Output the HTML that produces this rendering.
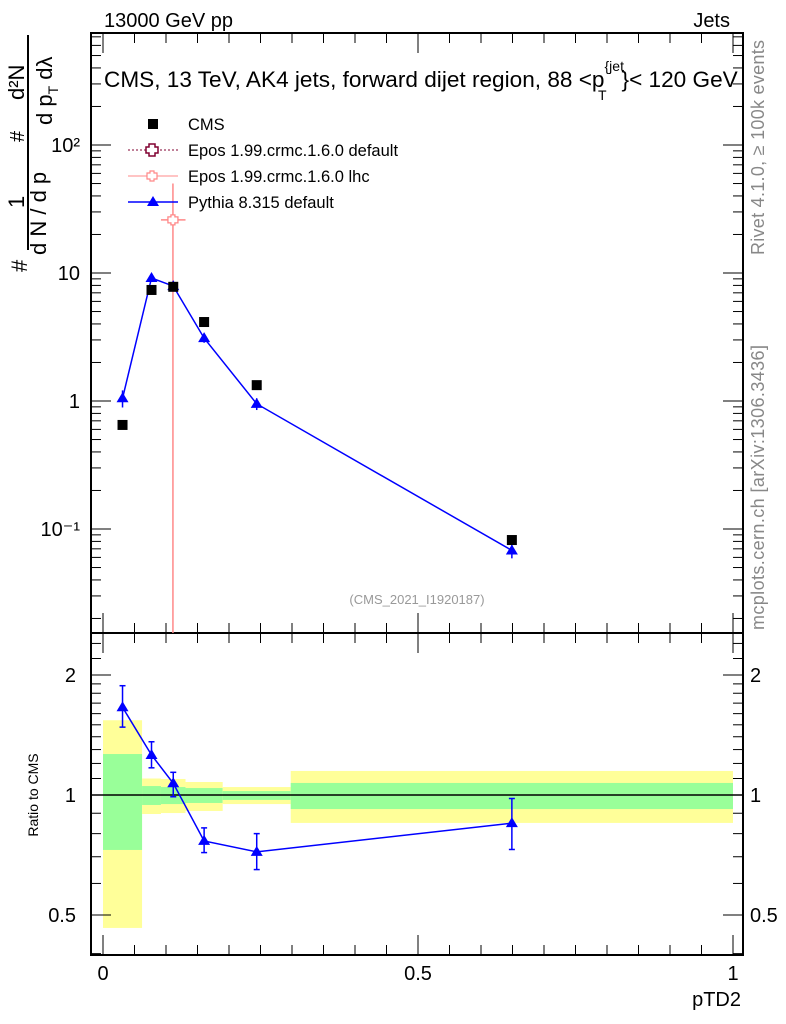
<!DOCTYPE html>
<html><head><meta charset="utf-8"><style>
body{margin:0;background:#fff}
svg{display:block;font-family:"Liberation Sans",sans-serif}
</style></head><body>
<svg id="c" width="786" height="1024" xmlns="http://www.w3.org/2000/svg">
<g id="bands"></g>
<g id="axes"></g>
<g id="marks"></g>
<text x="104" y="27" font-size="20">13000 GeV pp</text>
<text x="730" y="27" font-size="20" text-anchor="end">Jets</text>
<text x="104" y="87" font-size="22.6">CMS, 13 TeV, AK4 jets, forward dijet region, 88 &lt;p<tspan font-size="14" dy="-16">{jet</tspan><tspan font-size="14" dx="-26" dy="29">T</tspan><tspan dx="15" dy="-13">}&lt; 120 GeV</tspan></text>
<text x="417" y="604" font-size="13" fill="#999" text-anchor="middle">(CMS_2021_I1920187)</text>
<text transform="translate(764,255) rotate(-90)" font-size="18" fill="#888" textLength="215">Rivet 4.1.0, ≥ 100k events</text>
<text transform="translate(764,630) rotate(-90)" font-size="18" fill="#888" textLength="285">mcplots.cern.ch [arXiv:1306.3436]</text>
<g font-size="22">
<text transform="translate(27,272) rotate(-90)">#</text>
<line x1="28" y1="250" x2="28" y2="35" stroke="#000" stroke-width="2"/>
<text transform="translate(24,208) rotate(-90)">1</text>
<text transform="translate(46,255) rotate(-90)">d N / d p</text>
<text transform="translate(24,142) rotate(-90)" font-size="20">#</text>
<text transform="translate(24,100) rotate(-90)">d²N</text>
<line x1="28" y1="125" x2="28" y2="35" stroke="#000" stroke-width="1.5"/>
<text transform="translate(52,125) rotate(-90)">d p<tspan font-size="14" dy="6">T</tspan><tspan dy="-6"> dλ</tspan></text>
</g>
<text transform="translate(38,795) rotate(-90)" font-size="14" text-anchor="middle">Ratio to CMS</text>
<text x="741" y="1006" font-size="20" text-anchor="end">pTD2</text>
<g font-size="16.5">
<g><rect x="148" y="119" width="10" height="10" fill="#000"/><text x="188" y="130">CMS</text></g>
<g><line x1="128" y1="150" x2="178" y2="150" stroke="#800030" stroke-dasharray="2,2"/><path d="M149,144h6v3h3v6h-3v3h-6v-3h-3v-6h3z" fill="#fff" stroke="#800030" stroke-width="1.5"/><text x="188" y="156">Epos 1.99.crmc.1.6.0 default</text></g>
<g><line x1="128" y1="176" x2="178" y2="176" stroke="#f88"/><path d="M150,171h4v2h3v6h-3v2h-4v-2h-3v-6h3z" fill="#fff" stroke="#f88" stroke-width="1.2"/><text x="188" y="182">Epos 1.99.crmc.1.6.0 lhc</text></g>
<g><line x1="128" y1="202" x2="178" y2="202" stroke="#00f" stroke-width="1.5"/><path d="M153,196l6,10h-12z" fill="#00f"/><text x="188" y="208">Pythia 8.315 default</text></g>
</g>
</svg>
<script>
const binEdges=[0,0.062,0.092,0.131,0.19,0.298,1.0];
const cmsVals=[0.65,7.37,7.8,4.14,1.33,0.082];
const pyVals=[1.05,9.14,7.9,3.1,0.95,0.068];
const pyErr=[0.16,0.6,0.5,0.25,0.1,0.009];
const eposX=[0.111];const eposVal=[26];const eposErrHi=[24];
const ratioVals=[1.66,1.26,1.07,0.767,0.72,0.85];
const ratioErrHi=[0.22,0.1,0.07,0.06,0.08,0.13];
const ratioErrLo=[0.18,0.09,0.08,0.05,0.07,0.12];
const yelHi=[1.54,1.10,1.097,1.078,1.047,1.149];
const yelLo=[0.464,0.896,0.901,0.912,0.949,0.851];
const grnHi=[1.267,1.053,1.047,1.041,1.023,1.072];
const grnLo=[0.728,0.944,0.949,0.955,0.972,0.922];
const xTicks=[0,0.5,1];const xTickLabels=["0","0.5","1"];
const L=91,R=743,T=33,M=633,B=955;
const X=v=>103+630*v;
const Y=v=>401-128*Math.log10(v);
const YR=v=>795-120*Math.log2(v);
const NS="http://www.w3.org/2000/svg";
function mk(p,t,a){const e=document.createElementNS(NS,t);for(const k in a)e.setAttribute(k,a[k]);document.getElementById(p).appendChild(e);return e;}
const cx=binEdges.slice(0,-1).map((e,i)=>(e+binEdges[i+1])/2);
for(let i=0;i<6;i++){
 const a=X(binEdges[i]),b=X(binEdges[i+1]);
 let r=mk('bands','rect',{x:a,y:YR(yelHi[i]),width:b-a,height:YR(yelLo[i])-YR(yelHi[i]),fill:'#ffff99'});
 
 
 r=mk('bands','rect',{x:a,y:YR(grnHi[i]),width:b-a,height:YR(grnLo[i])-YR(grnHi[i]),fill:'#99ff99'});
 
 
}
mk('axes','rect',{x:L,y:T,width:R-L,height:M-T,fill:'none',stroke:'#000','stroke-width':2});
mk('axes','rect',{x:L,y:M,width:R-L,height:B-M,fill:'none',stroke:'#000','stroke-width':2});
mk('axes','line',{x1:L,y1:YR(1),x2:R,y2:YR(1),stroke:'#000','stroke-width':1.5});
for(let d=-2;d<=2;d++)for(let k=1;k<10;k++){const v=k*Math.pow(10,d);const y=Y(v);if(y<T||y>M)continue;const len=k==1?20:10;
 mk('axes','line',{x1:L,y1:y,x2:L+len,y2:y,stroke:'#000'});mk('axes','line',{x1:R,y1:y,x2:R-len,y2:y,stroke:'#000'});}
const ml=[[2,'10²'],[1,'10'],[0,'1'],[-1,'10⁻¹']];
ml.forEach(([d,s])=>{const t=mk('axes','text',{x:80,y:Y(Math.pow(10,d))+7,'font-size':20,'text-anchor':'end'});t.textContent=s;
 
 });
[0.4,0.5,0.6,0.7,0.8,0.9,1,1.1,1.2,1.3,1.4,1.5,1.6,1.7,1.8,1.9,2,2.2,2.4].forEach(v=>{const y=YR(v);if(y<M||y>B)return;const len=(v==0.5||v==1||v==2)?20:10;
 mk('axes','line',{x1:L,y1:y,x2:L+len,y2:y,stroke:'#000'});mk('axes','line',{x1:R,y1:y,x2:R-len,y2:y,stroke:'#000'});});
[[2,'2'],[1,'1'],[0.5,'0.5']].forEach(([v,s])=>{let t=mk('axes','text',{x:76,y:YR(v)+7,'font-size':20,'text-anchor':'end'});t.textContent=s;
 
 
 t=mk('axes','text',{x:750,y:YR(v)+7,'font-size':20});t.textContent=s;
 
 });
for(let i=0;i<=20;i++){const v=i*0.05;const x=X(v);const len=i%10==0?20:10;
 mk('axes','line',{x1:x,y1:M,x2:x,y2:M-len,stroke:'#000'});mk('axes','line',{x1:x,y1:T,x2:x,y2:T+len,stroke:'#000'});
 mk('axes','line',{x1:x,y1:B,x2:x,y2:B-len,stroke:'#000'});mk('axes','line',{x1:x,y1:M,x2:x,y2:M+len,stroke:'#000'});}
xTicks.forEach((v,i)=>{const t=mk('axes','text',{x:X(v),y:980,'font-size':20,'text-anchor':'middle'});t.textContent=xTickLabels[i];
 
 });
eposX.forEach((v,i)=>{const x=X(v),y=Y(eposVal[i]);
 mk('marks','line',{x1:x,y1:Y(eposVal[i]+eposErrHi[i]),x2:x,y2:M,stroke:'#f88','stroke-width':1.5});
 mk('marks','line',{x1:X(binEdges[2]),y1:y,x2:X(binEdges[3]),y2:y,stroke:'#f88','stroke-width':1.5});
 const p=mk('marks','path',{d:`M${x-2},${y-5}h4v2h3v6h-3v2h-4v-2h-3v-6h3z`,fill:'#fff',stroke:'#f88','stroke-width':1.3});
 
 });
mk('marks','polyline',{points:cx.map((v,i)=>X(v)+','+Y(pyVals[i])).join(' '),fill:'none',stroke:'#00f','stroke-width':1.5});
pyVals.forEach((v,i)=>{const x=X(cx[i]),y=Y(v);
 mk('marks','line',{x1:x,y1:Y(v+pyErr[i]),x2:x,y2:Y(v-pyErr[i]),stroke:'#00f','stroke-width':1.5});
 const p=mk('marks','path',{d:`M${x},${y-6}l6,10h-12z`,fill:'#00f'});
 
 });
cmsVals.forEach((v,i)=>{const r=mk('marks','rect',{x:X(cx[i])-5,y:Y(v)-5,width:10,height:10,fill:'#000'});
 
 });
mk('marks','polyline',{points:cx.map((v,i)=>X(v)+','+YR(ratioVals[i])).join(' '),fill:'none',stroke:'#00f','stroke-width':1.5});
ratioVals.forEach((v,i)=>{const x=X(cx[i]),y=YR(v);
 mk('marks','line',{x1:x,y1:YR(v+ratioErrHi[i]),x2:x,y2:YR(v-ratioErrLo[i]),stroke:'#00f','stroke-width':1.5});
 mk('marks','line',{x1:x-3,y1:YR(v+ratioErrHi[i]),x2:x+3,y2:YR(v+ratioErrHi[i]),stroke:'#00f','stroke-width':1.5});
 mk('marks','line',{x1:x-3,y1:YR(v-ratioErrLo[i]),x2:x+3,y2:YR(v-ratioErrLo[i]),stroke:'#00f','stroke-width':1.5});
 const p=mk('marks','path',{d:`M${x},${y-6}l6,10h-12z`,fill:'#00f'});
 
 });
</script>
</body></html>
